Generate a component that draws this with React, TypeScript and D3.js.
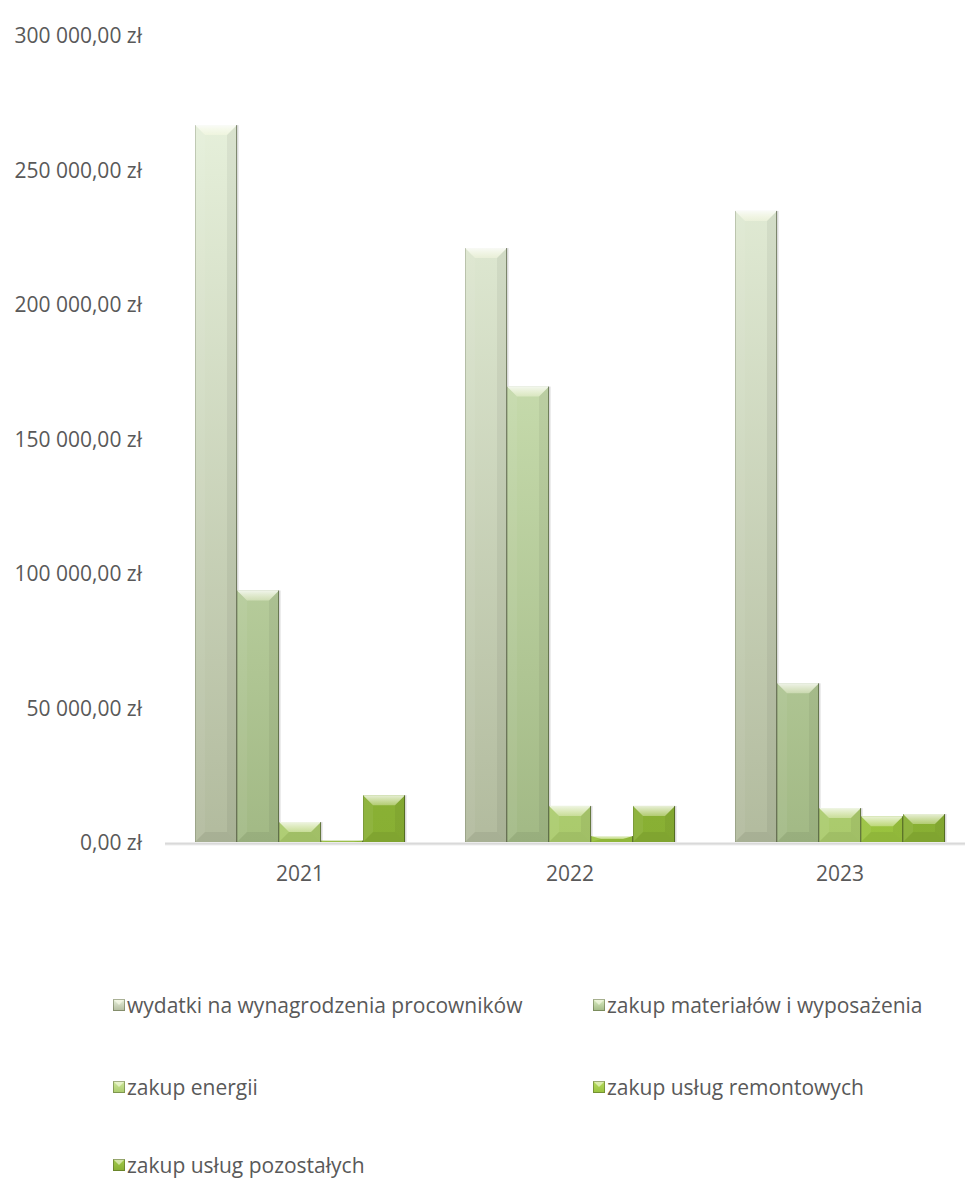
import React from "react";
import * as d3 from "d3";

const years = ["2021", "2022", "2023"];
const seriesNames = [
  "wydatki na wynagrodzenia procowników",
  "zakup materiałów i wyposażenia",
  "zakup energii",
  "zakup usług remontowych",
  "zakup usług pozostałych",
];
const wynagrodzenia = [266500, 220800, 234600];
const materialy = [93500, 169300, 59000];
const energia = [7400, 13400, 12600];
const remonty = [500, 2200, 9600];
const pozostale = [17400, 13400, 10400];
const seriesValues = [wynagrodzenia, materialy, energia, remonty, pozostale];
const yTicks = [0, 50000, 100000, 150000, 200000, 250000, 300000];

const seriesTop = ["#e8f2dd", "#dcefc4", "#cfe99c", "#b6dc5c", "#a2cb4a"];
const seriesBottom = ["#b2bb9e", "#a2b985", "#aaca6c", "#99c23e", "#88af33"];

const W = 965;
const H = 1186;
const FONT = "'Open Sans', sans-serif";
const TXT = "#595959";
const FS = 21;

function fmt(v: number) {
  const s = d3.format(",.2f")(v);
  return s.replace(/,/g, " ").replace(".", ",") + " zł";
}

function Bar({ x, y, w, h, id }: { x: number; y: number; w: number; h: number; id: number }) {
  if (h <= 0) return null;
  const b = Math.min(10, h / 2);
  const bs = Math.min(10, w / 2);
  const x2 = x + w;
  const y2 = y + h;
  return (
    <g>
      <rect x={x + 1.5} y={y} width={w} height={h} fill="rgba(0,0,0,0.15)" />
      <rect x={x} y={y} width={w} height={h} fill={`url(#grad${id})`} />
      <polygon
        points={`${x},${y} ${x2},${y} ${x2 - bs},${y + b} ${x + bs},${y + b}`}
        fill="url(#topHi)"
      />
      <polygon
        points={`${x},${y} ${x + bs},${y + b} ${x + bs},${y2 - b} ${x},${y2}`}
        fill="rgba(255,255,255,0.06)"
      />
      <polygon
        points={`${x2},${y} ${x2 - bs},${y + b} ${x2 - bs},${y2 - b} ${x2},${y2}`}
        fill="rgba(0,0,0,0.05)"
      />
      <polygon
        points={`${x},${y2} ${x + bs},${y2 - b} ${x2 - bs},${y2 - b} ${x2},${y2}`}
        fill="rgba(0,0,0,0.06)"
      />
      <line x1={x2 - 0.5} y1={y} x2={x2 - 0.5} y2={y2} stroke="rgba(40,50,20,0.5)" strokeWidth={1} />
      <line x1={x + 0.5} y1={y} x2={x + 0.5} y2={y2} stroke="rgba(60,70,40,0.22)" strokeWidth={1} />
    </g>
  );
}

export default function App() {
  const x0 = d3.scaleBand<string>().domain(years).range([165, 975]).padding(0);
  const inner = d3
    .scaleBand<number>()
    .domain(seriesNames.map((_, i) => i))
    .range([30, 240])
    .padding(0);
  const y = d3.scaleLinear().domain([0, 300000]).range([842, 35]);

  const legendItems = [
    { i: 0, x: 113, y: 1005 },
    { i: 1, x: 593, y: 1005 },
    { i: 2, x: 113, y: 1087 },
    { i: 3, x: 593, y: 1087 },
    { i: 4, x: 113, y: 1165 },
  ];

  return (
    <svg
      width={W}
      height={H}
      style={{ position: "absolute", left: 0, top: 0, display: "block", background: "#fff" }}
    >
      <defs>
        {seriesNames.map((_, i) => (
          <linearGradient key={i} id={`grad${i}`} gradientUnits="userSpaceOnUse" x1="0" y1={y(280000)} x2="0" y2={y(0)}>
            <stop offset="0" stopColor={seriesTop[i]} />
            <stop offset="1" stopColor={seriesBottom[i]} />
          </linearGradient>
        ))}
        {seriesNames.map((_, i) => (
          <linearGradient key={"l" + i} id={`lgrad${i}`} x1="0" y1="0" x2="0" y2="1">
            <stop offset="0" stopColor={seriesTop[i]} />
            <stop offset="1" stopColor={seriesBottom[i]} />
          </linearGradient>
        ))}
        <linearGradient id="topHi" x1="0" y1="0" x2="0" y2="1">
          <stop offset="0" stopColor="#ffffff" stopOpacity={0.8} />
          <stop offset="1" stopColor="#ffffe8" stopOpacity={0.35} />
        </linearGradient>
      </defs>

      {yTicks.map((t) => (
        <text
          key={t}
          x={142}
          y={y(t)}
          textAnchor="end"
          dominantBaseline="central"
          fontFamily={FONT}
          fontSize={FS}
          fill={TXT}
        >
          {fmt(t)}
        </text>
      ))}

      {years.map((yr, yi) =>
        seriesValues.map((vals, si) => {
          const v = vals[yi];
          const bx = (x0(yr) as number) + (inner(si) as number);
          const top = y(v);
          return <Bar key={yr + si} x={bx} y={top} w={inner.bandwidth()} h={y(0) - top} id={si} />;
        })
      )}

      <line x1={165} x2={965} y1={843.5} y2={843.5} stroke="#d9d9d9" strokeWidth={2} />
      <line x1={165} x2={965} y1={845} y2={845} stroke="rgba(0,0,0,0.05)" strokeWidth={1.5} />

      {years.map((yr) => (
        <text
          key={yr}
          x={(x0(yr) as number) + x0.bandwidth() / 2}
          y={873}
          textAnchor="middle"
          dominantBaseline="central"
          fontFamily={FONT}
          fontSize={FS}
          fill={TXT}
        >
          {yr}
        </text>
      ))}

      {legendItems.map(({ i, x, y: ly }) => (
        <g key={i}>
          <rect x={x} y={ly - 6} width={12} height={12} fill={`url(#lgrad${i})`} />
          <polygon points={`${x},${ly - 6} ${x + 12},${ly - 6} ${x + 6},${ly}`} fill="rgba(255,255,240,0.55)" />
          <rect x={x + 0.5} y={ly - 5.5} width={11} height={11} fill="none" stroke="rgba(60,70,30,0.4)" strokeWidth={1} />
          <text
            x={x + 14}
            y={ly}
            dominantBaseline="central"
            fontFamily={FONT}
            fontSize={FS}
            fill={TXT}
          >
            {seriesNames[i]}
          </text>
        </g>
      ))}
    </svg>
  );
}
